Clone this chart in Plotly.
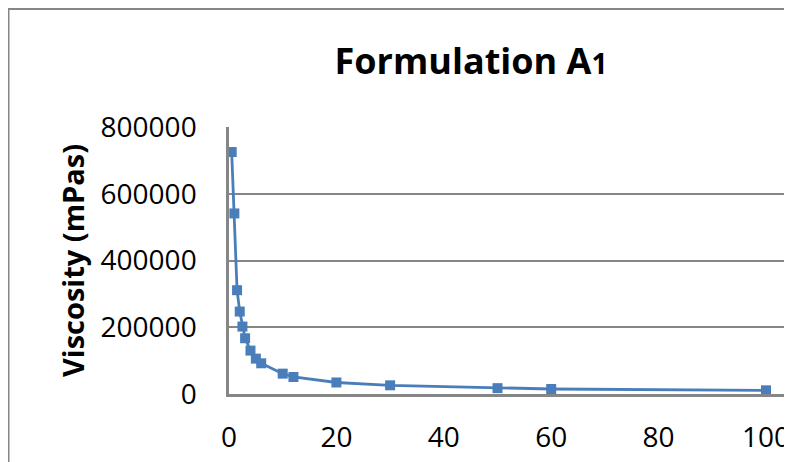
import plotly.graph_objects as go

shear_rate = [0.5, 1, 1.5, 2, 2.5, 3, 4, 5, 6, 10, 12, 20, 30, 50, 60, 100]
viscosity = [725000, 541000, 311000, 247000, 202000, 167000, 130000, 106000, 92000,
             61000, 51000, 34500, 26000, 17500, 15000, 11000]
x_ticks = [0, 20, 40, 60, 80, 100]
y_ticks = [0, 200000, 400000, 600000, 800000]

# page is offset by the browser's default 8px body margin
OFF = 8
W, H = 792 - OFF, 462 - OFF
L, T, B = 229 - OFF, 127 - OFF, 394 - OFF
R = W
px_per_x = (766 - 229) / 100.0

fig = go.Figure()
fig.add_trace(go.Scatter(
    x=shear_rate, y=viscosity, mode="lines+markers",
    line=dict(color="#4A7EBB", width=2.8),
    marker=dict(symbol="square", size=10, color="#4A7EBB"),
    showlegend=False,
))

def px2paper_x(p):
    return (p - L) / (R - L)

def px2paper_y(p):
    return (B - p) / (B - T)

grey = "#868686"
fig.add_shape(type="line", xref="paper", yref="paper",
              x0=px2paper_x(0), x1=px2paper_x(W + 10), y0=px2paper_y(0.5), y1=px2paper_y(0.5),
              line=dict(color=grey, width=3))
fig.add_shape(type="line", xref="paper", yref="paper",
              x0=px2paper_x(0), x1=px2paper_x(0), y0=px2paper_y(0), y1=px2paper_y(H + 10),
              line=dict(color=grey, width=3))

font_fam = "Open Sans, Lato, sans-serif"
fig.update_layout(
    width=W, height=H,
    margin=dict(l=L, r=W - R, t=T, b=H - B, pad=0, autoexpand=False),
    paper_bgcolor="white", plot_bgcolor="white",
    title=dict(text="<b>Formulation A<span style='font-size:28px'>1</span></b>",
               x=(471 - OFF) / W, xanchor="center", y=1 - (61 - OFF) / H, yanchor="middle",
               font=dict(family=font_fam, size=36, color="black")),
    xaxis=dict(range=[0, (R - L) / px_per_x], tickvals=x_ticks, ticktext=[str(v) for v in x_ticks],
               showgrid=False, zeroline=False, showline=True, linecolor=grey, linewidth=2.5,
               ticks="", ticklabelstandoff=17, automargin=False,
               tickfont=dict(family=font_fam, size=28, color="black")),
    yaxis=dict(range=[0, 800000], tickvals=y_ticks, ticktext=[str(v) for v in y_ticks],
               showgrid=True, gridcolor=grey, gridwidth=1.5, zeroline=False,
               showline=True, linecolor=grey, linewidth=2.5, ticks="",
               ticklabelstandoff=24, automargin=False,
               tickfont=dict(family=font_fam, size=28, color="black"),
               title=dict(text="<b>Viscosity (mPas)</b>", standoff=8,
                          font=dict(family=font_fam, size=29, color="black"))),
)

fig.write_html("out.html")
